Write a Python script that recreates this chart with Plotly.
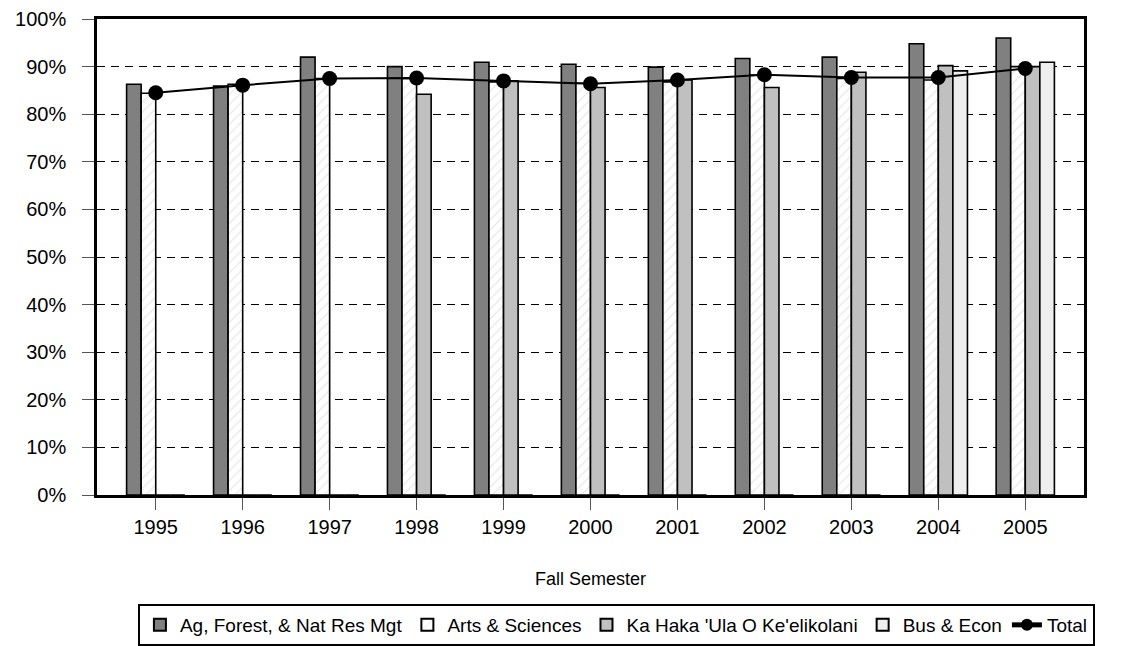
import plotly.graph_objects as go

years = ["1995", "1996", "1997", "1998", "1999", "2000", "2001", "2002", "2003", "2004", "2005"]
ag = [86.3, 85.9, 92.0, 90.0, 90.9, 90.5, 89.9, 91.7, 92.0, 94.8, 96.0]
arts = [84.4, 86.3, 87.5, 87.5, 86.8, 86.5, 86.8, 88.2, 87.5, 87.2, 90.0]
kahaka = [0, 0, 0, 84.2, 87.0, 85.6, 87.2, 85.6, 88.8, 90.2, 90.0]
bus = [0, 0, 0, 0, 0, 0, 0, 0, 0, 89.1, 90.9]
total = [84.5, 86.1, 87.5, 87.6, 87.0, 86.4, 87.2, 88.3, 87.7, 87.7, 89.6]

names = ["Ag, Forest, & Nat Res Mgt", "Arts & Sciences", "Ka Haka 'Ula O Ke'elikolani", "Bus & Econ", "Total"]

FONT = "Arial, Liberation Sans, sans-serif"
line_style = dict(color="black", width=1.6)

fig = go.Figure()
fig.add_trace(go.Bar(x=years, y=ag, name=names[0],
                     marker=dict(color="#808080", line=line_style)))
fig.add_trace(go.Bar(x=years, y=arts, name=names[1],
                     marker=dict(color="white", line=line_style,
                                 pattern=dict(shape="/", fgcolor="#C8C8C8", bgcolor="white",
                                              size=7, solidity=0.15))))
fig.add_trace(go.Bar(x=years, y=kahaka, name=names[2],
                     marker=dict(color="#C0C0C0", line=line_style)))
fig.add_trace(go.Bar(x=years, y=bus, name=names[3],
                     marker=dict(color="#EEEEEE", line=line_style)))
fig.add_trace(go.Scatter(x=years, y=total, name=names[4], mode="lines+markers",
                         line=dict(color="black", width=2),
                         marker=dict(color="black", size=15, symbol="circle")))

# the page body has an 8px margin, so the figure is shrunk by that amount
fig.update_layout(
    width=1133, height=638,
    margin=dict(l=89, r=57, t=11, b=151, autoexpand=False),
    paper_bgcolor="white", plot_bgcolor="white",
    font=dict(family=FONT, size=20, color="black"),
    barmode="group", bargap=0.33, bargroupgap=0,
    showlegend=True,
    legend=dict(orientation="h", x=0.537, xanchor="center", xref="container",
                y=0.0, yanchor="bottom", yref="container",
                bordercolor="black", borderwidth=2, font=dict(size=19),
                itemsizing="constant", tracegroupgap=0, itemwidth=30),
)
fig.update_xaxes(
    type="category", showline=True, linecolor="black", linewidth=2.5, mirror=True,
    ticks="outside", ticklen=12, tickcolor="#555555", tickwidth=1,
    showgrid=False, automargin=False,
    title=dict(text="Fall Semester", font=dict(size=18), standoff=36),
)
fig.update_yaxes(
    range=[0, 100], dtick=10, ticksuffix="%",
    showline=True, linecolor="black", linewidth=2.5, mirror=True,
    ticks="outside", ticklen=12, tickcolor="#555555", ticklabelstandoff=12,
    ticklabeloverflow="allow",
    showgrid=True, gridcolor="black", griddash="8px,6px", gridwidth=1,
    zeroline=False, automargin=False,
)

fig.write_html("out.html")
